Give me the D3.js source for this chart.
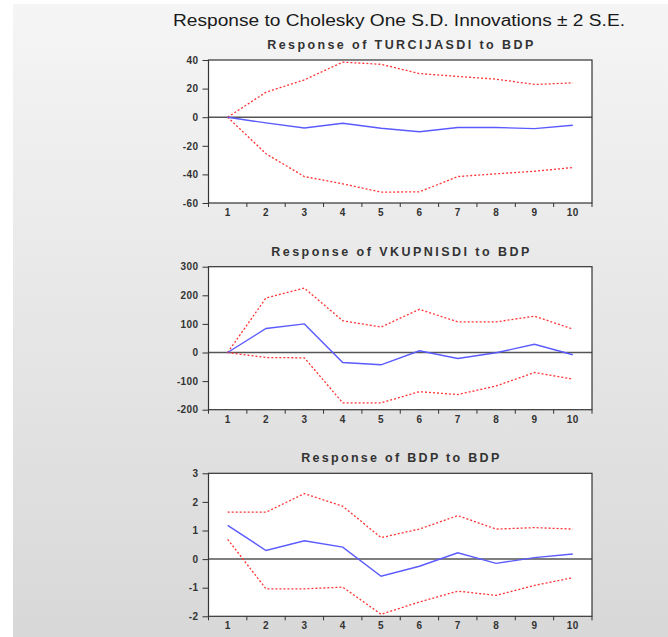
<!DOCTYPE html>
<html><head><meta charset="utf-8">
<script src="https://cdn.jsdelivr.net/npm/d3@7"></script>
<style>body{margin:0;background:#fff;}svg{display:block;}text{font-family:"Liberation Sans",Arial,sans-serif;fill:#222;}</style>
</head><body><svg id="c" width="668" height="637"></svg>
<script>
const periods = [1,2,3,4,5,6,7,8,9,10];

const turcResp  = [0,-4,-7.5,-4.2,-7.7,-10.2,-7.2,-7.2,-8,-5.6];
const turcUpper = [0,17.5,26.1,38.5,37,30.5,28.5,26.6,22.9,24];
const turcLower = [0,-25.6,-41.5,-46.6,-52.4,-52.2,-41.5,-39.6,-37.8,-35.2];

const vkupResp  = [0,84,100,-35,-43,6,-21,-1,29,-8];
const vkupUpper = [0,191,225,111,89,151,107,107,127,82];
const vkupLower = [0,-17.5,-18.7,-176,-176,-137,-147,-117,-70,-93];

const bdpResp  = [1.18,0.30,0.64,0.42,-0.60,-0.25,0.22,-0.15,0.05,0.18];
const bdpUpper = [1.64,1.64,2.29,1.85,0.75,1.05,1.52,1.05,1.10,1.05];
const bdpLower = [0.69,-1.04,-1.04,-0.98,-1.93,-1.5,-1.12,-1.27,-0.92,-0.65];

const panels = [
  {title:"Response of TURCIJASDI to BDP", resp:turcResp, up:turcUpper, lo:turcLower, domain:[-60,40], ticks:[40,20,0,-20,-40,-60], tw:266},
  {title:"Response of VKUPNISDI to BDP", resp:vkupResp, up:vkupUpper, lo:vkupLower, domain:[-200,300], ticks:[300,200,100,0,-100,-200], tw:258},
  {title:"Response of BDP to BDP", resp:bdpResp, up:bdpUpper, lo:bdpLower, domain:[-2,3], ticks:[3,2,1,0,-1,-2], tw:198}
];
const mainTitle = "Response to Cholesky One S.D. Innovations \u00b1 2 S.E.";

const svg = d3.select("#c");
const defs = svg.append("defs");
const grad = defs.append("linearGradient").attr("id","bg").attr("x1",0).attr("y1",0).attr("x2",0).attr("y2",1);
grad.append("stop").attr("offset","0%").attr("stop-color","#f5f5f5");
grad.append("stop").attr("offset","100%").attr("stop-color","#d8d8d8");
svg.append("rect").attr("x",13).attr("y",4).attr("width",655).attr("height",633).attr("fill","url(#bg)");

svg.append("text").attr("x",399).attr("y",26).attr("text-anchor","middle")
  .attr("textLength",452).attr("lengthAdjust","spacingAndGlyphs")
  .style("font-size","16px").style("fill","#1a1a1a").text(mainTitle);

const L = 208.5, R = 592;
const x = d3.scaleBand().domain(periods).range([L,R]).padding(0);
const tops = [60,266.7,473.3];
const H = 143;

panels.forEach((p,i)=>{
  const top = tops[i], bot = top+H;
  const y = d3.scaleLinear().domain(p.domain).range([bot,top]);
  const g = svg.append("g");
  g.append("rect").attr("x",L).attr("y",top).attr("width",R-L).attr("height",H).attr("fill","#fff");
  g.append("text").attr("x",(L+R)/2).attr("y",top-11).attr("text-anchor","middle")
    .attr("textLength",p.tw).attr("lengthAdjust","spacing")
    .style("font-size","12.5px").style("font-weight","bold").style("fill","#333").text(p.title);
  // y axis
  const ya = g.append("g").attr("transform",`translate(${L},0)`)
    .call(d3.axisLeft(y).tickValues(p.ticks).tickSize(6).tickPadding(4).tickFormat(d=>String(d)));
  ya.select(".domain").remove();
  ya.selectAll("line").attr("stroke","#333");
  ya.selectAll("text").style("font-size","10px").style("font-weight","bold").style("fill","#333").style("letter-spacing","0.4px").style("font-family","Liberation Sans, Arial, sans-serif");
  // x axis
  const xa = g.append("g").attr("transform",`translate(0,${bot})`)
    .call(d3.axisBottom(x).tickSize(0).tickPadding(6));
  xa.select(".domain").remove();
  xa.selectAll("text").style("font-size","10px").style("font-weight","bold").style("fill","#333").style("letter-spacing","0.4px").style("font-family","Liberation Sans, Arial, sans-serif");
  const bounds = periods.map(d=>x(d)).concat([R]);
  g.selectAll(".bt").data(bounds).enter().append("line")
    .attr("x1",d=>d).attr("x2",d=>d).attr("y1",bot).attr("y2",bot+4).attr("stroke","#333");
  // zero line
  g.append("line").attr("x1",L).attr("x2",R).attr("y1",y(0)).attr("y2",y(0)).attr("stroke","#555").attr("stroke-width",1.5);
  const line = d3.line().x((d,j)=>x(periods[j])+x.bandwidth()/2).y(d=>y(d));
  g.append("path").attr("d",line(p.up)).attr("fill","none").attr("stroke","#ff3333").attr("stroke-width",1.3).attr("stroke-dasharray","2,2");
  g.append("path").attr("d",line(p.lo)).attr("fill","none").attr("stroke","#ff3333").attr("stroke-width",1.3).attr("stroke-dasharray","2,2");
  g.append("path").attr("d",line(p.resp)).attr("fill","none").attr("stroke","#5a5aff").attr("stroke-width",1.4);
  // frame
  g.append("rect").attr("x",L).attr("y",top).attr("width",R-L).attr("height",H).attr("fill","none").attr("stroke","#333").attr("stroke-width",1.2);
});
</script></body></html>
